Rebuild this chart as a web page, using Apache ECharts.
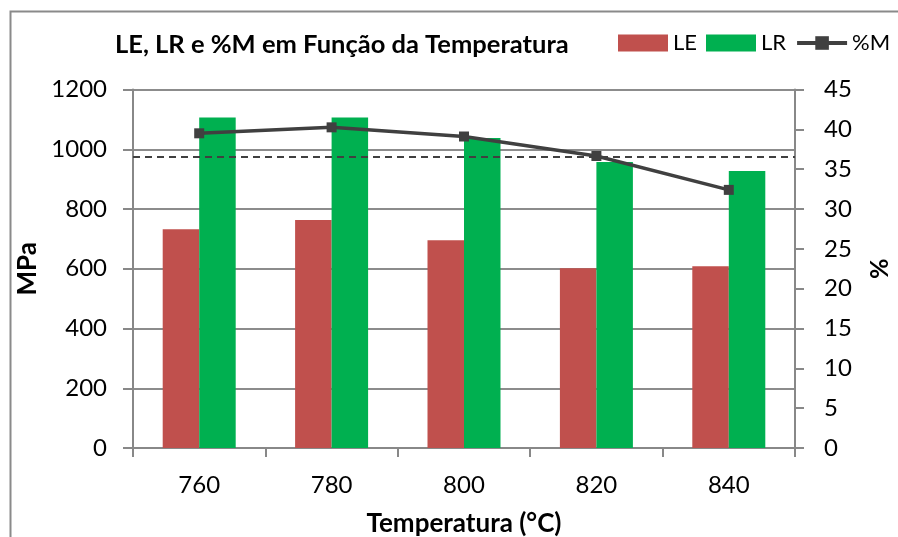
<!DOCTYPE html>
<html>
<head>
<meta charset="utf-8">
<script src="https://cdn.jsdelivr.net/npm/echarts@6/dist/echarts.min.js"></script>
<style>html,body{margin:0;padding:0;background:#fff}#c{width:898px;height:537px}</style>
</head>
<body>
<div id="c"></div>
<script>
const categories = ['760', '780', '800', '820', '840'];
const leValues = [732, 763, 695, 602, 608];
const lrValues = [1106, 1106, 1038, 957, 927];
const mValues = [39.5, 40.25, 39.1, 36.65, 32.4];
const refLineValue = [36.5];
const leftTicks = [0, 1200, 200];
const rightTicks = [0, 45, 5];

const FONT = 'Lato, "Liberation Sans", sans-serif';
const chart = echarts.init(document.getElementById('c'), null, {renderer: 'canvas'});
chart.setOption({
  backgroundColor: '#fff',
  animation: false,
  textStyle: {fontFamily: FONT},
  graphic: [{
    type: 'rect', left: 8, top: 9, shape: {width: 1000, height: 1000},
    style: {fill: 'none', stroke: '#8a8a8a', lineWidth: 2}, silent: true, z: -1
  }],
  title: {
    text: 'LE, LR e %M em Função da Temperatura',
    left: 110, top: 27,
    textStyle: {fontFamily: FONT, fontWeight: 'bold', fontSize: 25.5, color: '#000'}
  },
  legend: {
    left: 618, top: 32, padding: 0, width: 290, itemWidth: 50, itemHeight: 17, itemGap: 9,
    textStyle: {fontFamily: FONT, fontSize: 22, color: '#000'},
    data: [{name: 'LE', icon: 'rect'}, {name: 'LR', icon: 'rect'},
           {name: '%M', lineStyle: {width: 4, color: '#404040'}}]
  },
  grid: {left: 133, right: 103, top: 89.5, bottom: 89, containLabel: false, outerBoundsMode: 'none'},
  xAxis: {
    type: 'category', data: categories, boundaryGap: true,
    axisLine: {lineStyle: {color: '#888', width: 2}},
    axisTick: {show: true, length: 9, lineStyle: {color: '#888', width: 2}},
    axisLabel: {fontFamily: FONT, fontSize: 24, color: '#000', margin: 25},
    name: 'Temperatura (°C)', nameLocation: 'middle', nameGap: 63,
    nameTextStyle: {fontFamily: FONT, fontSize: 26, fontWeight: 'bold', color: '#000'}
  },
  yAxis: [{
    type: 'value', min: leftTicks[0], max: leftTicks[1], interval: leftTicks[2],
    axisLine: {show: true, lineStyle: {color: '#888', width: 2}},
    axisTick: {show: true, length: 10, lineStyle: {color: '#888', width: 2}},
    splitLine: {show: true, lineStyle: {color: '#8c8c8c', width: 2}},
    axisLabel: {fontFamily: FONT, fontSize: 24, color: '#000', margin: 26, formatter: v => String(v)},
    name: 'MPa', nameLocation: 'middle', nameGap: 92, nameRotate: 90,
    nameTextStyle: {fontFamily: FONT, fontSize: 26, fontWeight: 'bold', color: '#000'}
  }, {
    type: 'value', position: 'right', min: rightTicks[0], max: rightTicks[1], interval: rightTicks[2],
    axisLine: {show: true, lineStyle: {color: '#888', width: 2}},
    axisTick: {show: true, length: 9, lineStyle: {color: '#888', width: 2}},
    splitLine: {show: false},
    axisLabel: {fontFamily: FONT, fontSize: 24, color: '#000', margin: 29, formatter: v => String(v)},
    name: '%', nameLocation: 'middle', nameGap: 72, nameRotate: 90,
    nameTextStyle: {fontFamily: FONT, fontSize: 25, fontWeight: 'bold', color: '#000'}
  }],
  series: [{
    name: 'LE', type: 'bar', data: leValues, barWidth: 36.5, barGap: '0%',
    itemStyle: {color: '#C0504D'}
  }, {
    name: 'LR', type: 'bar', data: lrValues, barWidth: 36.5, barGap: '0%',
    itemStyle: {color: '#00B050'}
  }, {
    name: '%M', type: 'line', yAxisIndex: 1, data: mValues,
    symbol: 'rect', symbolSize: 10,
    lineStyle: {color: '#404040', width: 3.5},
    itemStyle: {color: '#404040'},
    markLine: {
      silent: true, symbol: 'none', label: {show: false},
      lineStyle: {color: '#404040', type: [7, 5], width: 1.8},
      data: [{yAxis: refLineValue[0]}]
    }
  }]
});
</script>
</body>
</html>
